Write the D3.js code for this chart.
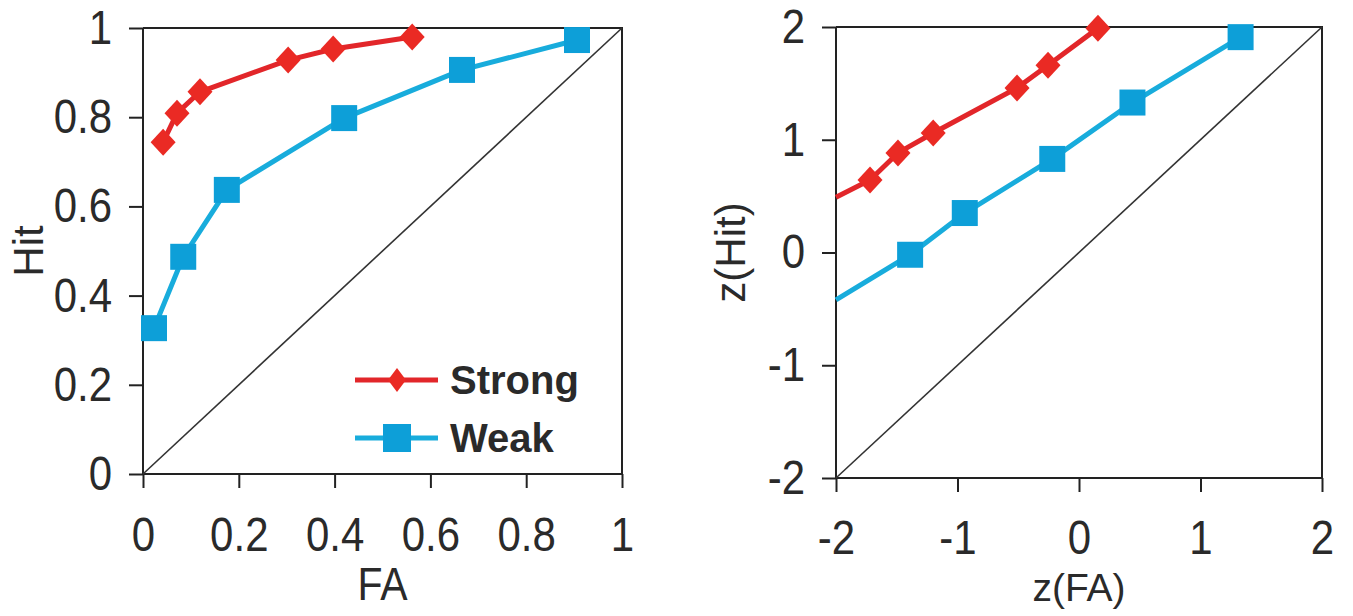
<!DOCTYPE html>
<html>
<head>
<meta charset="utf-8">
<script src="https://cdn.jsdelivr.net/npm/d3@7"></script>
<style>
  body { margin: 0; background: #fff; }
  text { font-family: "Liberation Sans", Arial, sans-serif; fill: #2a2a2a; }
</style>
</head>
<body>
<div id="chart"></div>
<script>
// tick labels
let probTicks = [0, 0.2, 0.4, 0.6, 0.8, 1]
let zTicks = [-2, -1, 0, 1, 2]

// ROC data (proportions)
let faStrong  = [0.042, 0.071, 0.119, 0.303, 0.397, 0.562]
let hitStrong = [0.744, 0.809, 0.857, 0.928, 0.953, 0.98]
let faWeak    = [0.023, 0.084, 0.175, 0.42, 0.666, 0.906]
let hitWeak   = [0.327, 0.487, 0.637, 0.798, 0.906, 0.973]

// z-transformed ROC data
let zfaStrong  = [-2, -1.72, -1.49, -1.2, -0.51, -0.255, 0.156]
let zhitStrong = [0.49, 0.643, 0.883, 1.06, 1.46, 1.66, 1.99]
let zfaWeak    = [-2, -1.39, -0.94, -0.22, 0.44, 1.33]
let zhitWeak   = [-0.42, -0.02, 0.35, 0.83, 1.33, 1.91]

let seriesNames = ['Strong', 'Weak']

let red = '#e2262a', redMark = '#ea2a24'
let cyan = '#18acdc', cyanMark = '#0d9fd8'

let svg = d3.select('#chart').append('svg')
    .attr('width', 1353)
    .attr('height', 616)

function zip(xs, ys) { return xs.map((x, i) => ({x: x, y: ys[i]})) }

function diamond(hw, hh) {
    return `M0,${-hh}L${hw},0L0,${hh}L${-hw},0Z`
}

function drawPanel(p) {
    let x = d3.scaleLinear().domain(p.domain).range(p.xr)
    let y = d3.scaleLinear().domain(p.domain).range(p.yr)
    let g = svg.append('g')

    // frame (top and right)
    g.append('path')
        .attr('d', `M${p.xr[0]},${p.yr[1]}H${p.xr[1]}V${p.yr[0]}`)
        .attr('fill', 'none').attr('stroke', '#222').attr('stroke-width', 2)

    let xAxis = g.append('g')
        .attr('transform', `translate(0,${p.yr[0]})`)
        .call(d3.axisBottom(x).tickValues(p.ticks).tickSize(14).tickPadding(p.xPad).tickFormat(d => String(d)))
    let yAxis = g.append('g')
        .attr('transform', `translate(${p.xr[0]},0)`)
        .call(d3.axisLeft(y).tickValues(p.ticks).tickSize(14).tickPadding(17).tickFormat(d => String(d)))

    for (let ax of [xAxis, yAxis]) {
        ax.select('.domain').attr('stroke', '#222').attr('stroke-width', 2)
        ax.selectAll('.tick line').attr('stroke', '#222').attr('stroke-width', 2)
        ax.selectAll('.tick text')
            .attr('font-size', 42)
            .attr('font-family', null)
            .attr('fill', '#2a2a2a')
            .attr('transform', 'scale(1,1.15)')
    }
    xAxis.select('.domain').attr('d', `M${p.xr[0]},0H${p.xr[1]}`)
    yAxis.select('.domain').attr('d', `M0,${p.yr[0]}V${p.yr[1]}`)

    // chance diagonal
    g.append('line')
        .attr('x1', x(p.domain[0])).attr('y1', y(p.domain[0]))
        .attr('x2', x(p.domain[1])).attr('y2', y(p.domain[1]))
        .attr('stroke', '#333').attr('stroke-width', 1.6)

    let line = d3.line().x(d => x(d.x)).y(d => y(d.y))

    let sets = [
        {pts: zip(p.sx, p.sy), color: red, mark: redMark, kind: 'diamond'},
        {pts: zip(p.wx, p.wy), color: cyan, mark: cyanMark, kind: 'square'}
    ]
    sets.forEach(s => {
        g.append('path')
            .attr('d', line(s.pts))
            .attr('fill', 'none').attr('stroke', s.color).attr('stroke-width', 5)
            .attr('stroke-linejoin', 'round')
        g.selectAll(null)
            .data(s.pts.filter(d => d.x > p.domain[0]))
            .enter()
            .append('path')
            .attr('transform', d => `translate(${x(d.x)},${y(d.y)})`)
            .attr('d', s.kind == 'diamond' ? diamond(12.5, 13.5) : 'M-13,-13H13V13H-13Z')
            .attr('fill', s.mark)
    })

    // axis titles
    g.append('text')
        .attr('transform', `translate(${(p.xr[0] + p.xr[1]) / 2},${p.xTitleY}) scale(1,${p.xTitleStretch})`)
        .attr('text-anchor', 'middle')
        .attr('font-size', p.xTitleSize)
        .text(p.xTitle)
    g.append('text')
        .attr('transform', `translate(${p.yTitleX},${(p.yr[0] + p.yr[1]) / 2}) rotate(-90)`)
        .attr('text-anchor', 'middle')
        .attr('font-size', 42)
        .text(p.yTitle)

    return {x: x, y: y, g: g}
}

drawPanel({
    domain: [0, 1], xr: [143, 622], yr: [474, 28], ticks: probTicks, xPad: 23,
    sx: faStrong, sy: hitStrong, wx: faWeak, wy: hitWeak,
    xTitle: 'FA', yTitle: 'Hit', xTitleY: 600, xTitleSize: 41, xTitleStretch: 1.12, yTitleX: 43
})

drawPanel({
    domain: [-2, 2], xr: [836, 1322], yr: [478, 27], ticks: zTicks, xPad: 22,
    sx: zfaStrong, sy: zhitStrong, wx: zfaWeak, wy: zhitWeak,
    xTitle: 'z(FA)', yTitle: 'z(Hit)', xTitleY: 601, xTitleSize: 39, xTitleStretch: 1, yTitleX: 745
})

// legend (left panel)
let legend = svg.append('g').attr('transform', 'translate(355,380)')
seriesNames.forEach((name, i) => {
    let row = legend.append('g').attr('transform', `translate(0,${i * 58})`)
    row.append('line')
        .attr('x1', 0).attr('x2', 83).attr('y1', 0).attr('y2', 0)
        .attr('stroke', i == 0 ? red : cyan).attr('stroke-width', 5)
    row.append('path')
        .attr('transform', 'translate(42,0)')
        .attr('d', i == 0 ? diamond(9, 12) : 'M-14,-14H14V14H-14Z')
        .attr('fill', i == 0 ? redMark : cyanMark)
    row.append('text')
        .attr('x', 95).attr('y', 14)
        .attr('font-size', 40).attr('font-weight', 'bold')
        .attr('fill', '#1a1a1a')
        .text(name)
})
</script>
</body>
</html>
